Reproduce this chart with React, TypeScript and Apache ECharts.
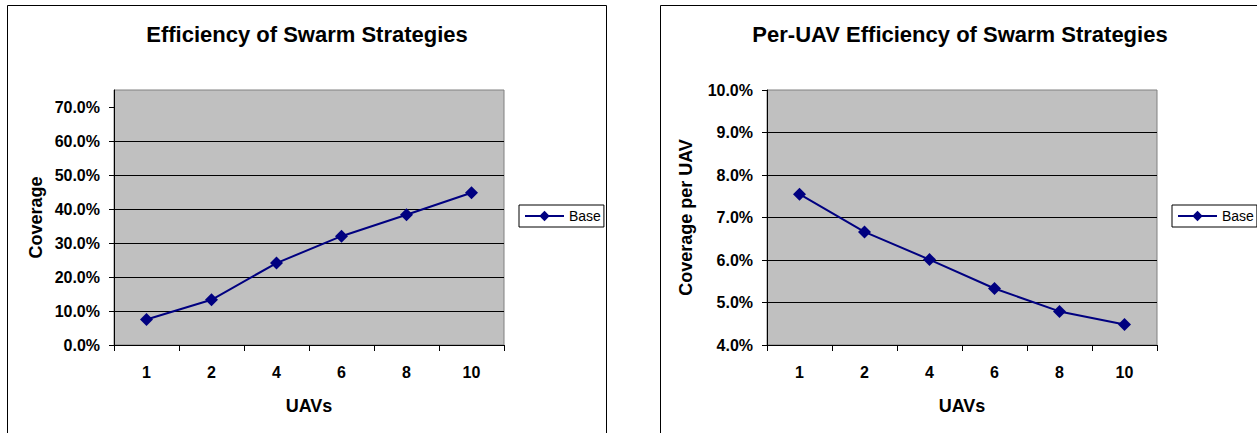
import { useEffect, useRef } from "react";
import * as echarts from "echarts";

// UAV swarm sizes along the category axis
const uavCounts = ["1", "2", "4", "6", "8", "10"];
// Total area coverage (%) for the Base strategy
const coverage = [7.5, 13.3, 24.1, 32.0, 38.3, 44.8];
// Coverage per UAV (%) for the Base strategy
const coveragePerUav = [7.55, 6.66, 6.01, 5.33, 4.79, 4.48];

const coverageTicks = [0, 10, 20, 30, 40, 50, 60, 70];
const perUavTicks = [4, 5, 6, 7, 8, 9, 10];

const seriesName = "Base";
const titles = ["Efficiency of Swarm Strategies", "Per-UAV Efficiency of Swarm Strategies"];
const yAxisNames = ["Coverage", "Coverage per UAV"];
const xAxisName = "UAVs";

const FONT = "'Liberation Sans', Arial, Helvetica, sans-serif";

const panels = [
  {
    gridLeft: 114,
    frameX: 7.5,
    frameW: 599,
    legendLeft: 519,
    titleX: 307,
    yMin: 0,
    yMax: 75,
    ticks: coverageTicks,
    data: coverage,
    nameGap: 69,
  },
  {
    gridLeft: 767,
    frameX: 660.5,
    frameW: 700,
    legendLeft: 1172,
    titleX: 960,
    yMin: 4,
    yMax: 10,
    ticks: perUavTicks,
    data: coveragePerUav,
    nameGap: 72,
  },
];

const pct = (v: number) => `${v.toFixed(1)}%`;

export default function App() {
  const ref = useRef<HTMLDivElement>(null);

  useEffect(() => {
    if (!ref.current) return;
    const chart = echarts.init(ref.current, undefined, { renderer: "svg" });

    const option = {
      animation: false,
      backgroundColor: "#ffffff",
      textStyle: { fontFamily: FONT },
      title: panels.map((p, i) => ({
        text: titles[i],
        left: p.titleX,
        top: 23,
        textAlign: "center",
        padding: 0,
        textStyle: { fontSize: 22, fontWeight: "bold", color: "#000", fontFamily: FONT },
      })),
      legend: panels.map((p) => ({
        data: [seriesName],
        left: p.legendLeft,
        top: 205,
        orient: "vertical",
        backgroundColor: "#fff",
        borderColor: "#000",
        borderWidth: 1,
        borderRadius: 0,
        padding: [4, 3, 4, 5],
        itemWidth: 39,
        itemHeight: 13,
        selectedMode: false,
        textStyle: { fontSize: 14, color: "#000", fontFamily: FONT },
      })),
      grid: panels.map((p) => ({
        left: p.gridLeft,
        top: 90,
        width: 390,
        height: 255,
        show: true,
        backgroundColor: "#C0C0C0",
        borderColor: "#808080",
        borderWidth: 1,
        containLabel: false,
      })),
      xAxis: panels.map((_, i) => ({
        type: "category",
        gridIndex: i,
        data: uavCounts,
        boundaryGap: true,
        name: xAxisName,
        nameLocation: "middle",
        nameGap: 52,
        nameTextStyle: { fontSize: 18, fontWeight: "bold", color: "#000", fontFamily: FONT },
        axisLine: { show: true, lineStyle: { color: "#000", width: 1 } },
        axisTick: { show: true, length: 6, lineStyle: { color: "#000" } },
        axisLabel: { margin: 19, fontSize: 16, fontWeight: "bold", color: "#000", fontFamily: FONT },
        splitLine: { show: false },
      })),
      yAxis: panels.map((p, i) => ({
        type: "value",
        gridIndex: i,
        min: p.yMin,
        max: p.yMax,
        interval: p.ticks[1] - p.ticks[0],
        name: yAxisNames[i],
        nameLocation: "middle",
        nameGap: p.nameGap,
        nameTextStyle: { fontSize: 18, fontWeight: "bold", color: "#000", fontFamily: FONT },
        axisLine: { show: true, lineStyle: { color: "#000", width: 1 } },
        axisTick: { show: true, length: 5, lineStyle: { color: "#000" }, customValues: p.ticks },
        axisLabel: {
          margin: 14,
          fontSize: 16,
          fontWeight: "bold",
          color: "#000",
          fontFamily: FONT,
          customValues: p.ticks,
          formatter: (v: number) => pct(v),
        },
        splitLine: { show: true, showMaxLine: false, lineStyle: { color: "#000", width: 1 } },
      })),
      series: panels.map((p, i) => ({
        name: seriesName,
        type: "line",
        xAxisIndex: i,
        yAxisIndex: i,
        data: p.data,
        symbol: "diamond",
        symbolSize: 13,
        color: "#000080",
        lineStyle: { color: "#000080", width: 2 },
        itemStyle: { color: "#000080" },
        emphasis: { disabled: true },
      })),
      graphic: panels.map((p) => ({
        type: "rect",
        silent: true,
        shape: { x: p.frameX, y: 5.5, width: p.frameW, height: 500 },
        style: { fill: "none", stroke: "#000", lineWidth: 1 },
        z: 10,
      })),
    };

    chart.setOption(option as any);
    return () => chart.dispose();
  }, []);

  return (
    <div
      ref={ref}
      style={{ position: "absolute", left: 0, top: 0, width: 1257, height: 433 }}
    />
  );
}
